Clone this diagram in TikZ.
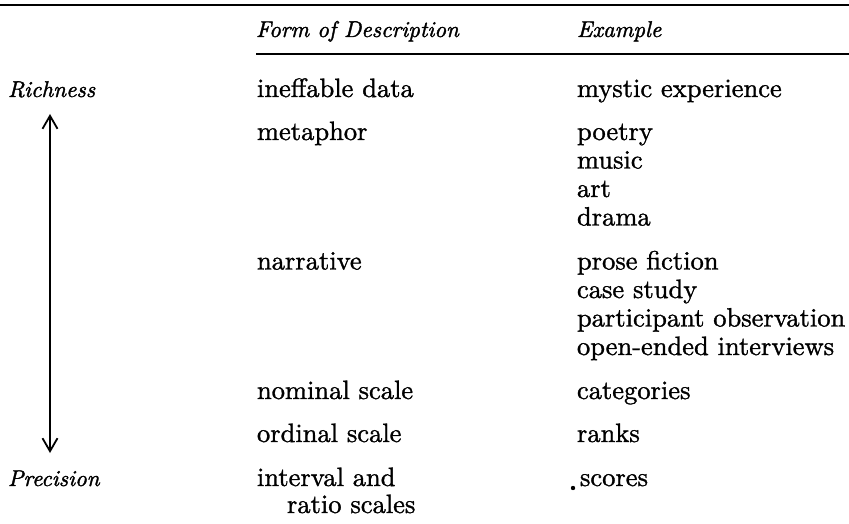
\documentclass[tikz,border=0pt]{standalone}
\usepackage{fontspec}
\setmainfont{lmroman10-regular.otf}[FakeBold=1.2,ItalicFont=lmroman10-italic.otf,ItalicFeatures={FakeBold=1.6}]
\usetikzlibrary{arrows.meta}
\begin{document}
\begin{tikzpicture}[x=1pt,y=-1pt,
  txt/.style={anchor=base west,inner sep=0pt,outer sep=0pt,font=\fontsize{26.5}{30}\selectfont},
  hdr/.style={txt,font=\fontsize{22.8}{27}\selectfont\itshape},
  rule/.style={line width=2.2pt},
  scalearrow/.style={line width=1.8pt,{Straight Barb[length=13pt,width=15pt,line width=1.8pt]}-{Straight Barb[length=13pt,width=15pt,line width=1.8pt]}}]
\useasboundingbox (0,0) rectangle (849,524);
% rules
\coordinate (r1l) at (0,5);
\coordinate (r1r) at (849,5);
\coordinate (r2l) at (256,54);
\coordinate (r2r) at (849,54);
\draw[rule] (r1l) -- (r1r);
\draw[rule] (r2l) -- (r2r);
% headers
\node[hdr] (hform) at (256,37) {Form of Description};
\node[hdr] (hex) at (577,37) {Example};
% left labels
\node[hdr] (rich) at (8,97) {Richness};
\node[hdr] (prec) at (8,486) {Precision};
\coordinate (arrtop) at (50,114);
\coordinate (arrbot) at (50,453);
\draw[scalearrow] (arrtop) -- (arrbot);
% forms
\node[txt] (f1) at (257,97) {ineffable data};
\node[txt] (f2) at (257,140) {metaphor};
\node[txt] (f3) at (257,269.5) {narrative};
\node[txt] (f4) at (257,399) {nominal scale};
\node[txt] (f5) at (257,442) {ordinal scale};
\node[txt] (f6) at (257,486) {interval and};
\node[txt] (f6b) at (287,513) {ratio scales};
% examples
\node[txt] (e1) at (577,97) {mystic experience};
\node[txt] (e2) at (577,140) {poetry};
\node[txt] (e3) at (577,168.5) {music};
\node[txt] (e4) at (577,197) {art};
\node[txt] (e5) at (577,225.5) {drama};
\node[txt] (e6) at (577,269.5) {prose fiction};
\node[txt] (e7) at (577,298) {case study};
\node[txt] (e8) at (577,326.5) {participant observation};
\node[txt] (e9) at (577,355) {open-ended interviews};
\node[txt] (e10) at (577,399) {categories};
\node[txt] (e11) at (577,442) {ranks};
\node[txt] (e12) at (580,486) {scores};
\fill (573,488) circle (2.2pt);
\end{tikzpicture}
\end{document}
